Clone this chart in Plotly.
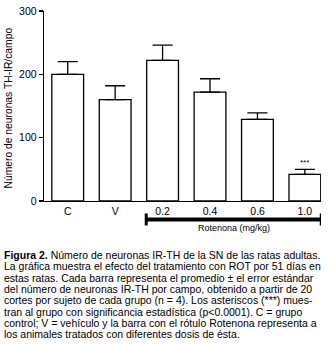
import plotly.graph_objects as go

categories = ["C", "V", "0.2", "0.4", "0.6", "1.0"]
means = [200, 160, 222, 172, 129, 42]
sem = [20, 22, 24, 21, 10, 8]
y_ticks = [0, 100, 200, 300]
y_title = "Número de neuronas TH-IR/campo"
bracket_label = "Rotenona (mg/kg)"
signif_label = "***"
caption_lines = [
    "<b>Figura 2.</b> Número de neuronas IR-TH de la SN de las ratas adultas.",
    "La gráfica muestra el efecto del tratamiento con ROT por 51 días en",
    "estas ratas. Cada barra representa el promedio ± el error estándar",
    "del número de neuronas IR-TH por campo, obtenido a partir de 20",
    "cortes por sujeto de cada grupo (n = 4). Los asteriscos (***) mues-",
    "tran al grupo con significancia estadística (p<0.0001). C = grupo",
    "control; V = vehículo y la barra con el rótulo Rotenona representa a",
    "los animales tratados con diferentes dosis de ésta.",
]

W, H = 333, 345
ML, MR, MT, MB = 44, 12, 11, 144
PW, PH = W - ML - MR, H - MT - MB
FONT = "Liberation Sans"


def py(pix):
    return (H - MB - pix) / PH


def px(pix):
    return (pix - ML) / PW


fig = go.Figure()
fig.add_trace(go.Bar(
    x=categories, y=means, width=0.67,
    marker=dict(color="white", line=dict(color="black", width=1.3)),
    error_y=dict(type="data", array=sem, arrayminus=[0] * len(sem), symmetric=False,
                 color="black", thickness=1.3, width=10),
    showlegend=False, hoverinfo="skip",
))

shapes = []
x0, x1 = 2 - 0.345, 5 + 0.345
shapes.append(dict(type="line", xref="x", yref="paper", x0=x0, x1=x1, y0=py(219.5), y1=py(219.5),
                   line=dict(color="black", width=4)))
for xx in (x0, x1):
    shapes.append(dict(type="line", xref="x", yref="paper", x0=xx, x1=xx, y0=py(213.5), y1=py(225.5),
                       line=dict(color="black", width=3)))

annotations = [
    dict(x=3.5, y=py(228), xref="x", yref="paper", text=bracket_label, showarrow=False,
         font=dict(size=9, color="black", family=FONT), xanchor="center", yanchor="middle"),
    dict(x=5, y=(H - MB - 162.5) / PH * 300, xref="x", yref="y", text=signif_label, showarrow=False,
         font=dict(size=8, color="black", family=FONT), xanchor="center", yanchor="middle"),
    dict(x=px(7.5), y=py(108), xref="paper", yref="paper", text=y_title, showarrow=False, textangle=-90,
         font=dict(size=10.3, color="black", family=FONT), xanchor="center", yanchor="middle"),
]
line_y0 = 255
for i, t in enumerate(caption_lines):
    annotations.append(dict(x=px(2), y=py(line_y0 + i * 11.3), xref="paper", yref="paper", text=t,
                            showarrow=False, xanchor="left", yanchor="middle",
                            font=dict(size=10.5, color="black", family=FONT)))

fig.update_layout(
    width=W, height=H,
    margin=dict(l=ML, r=MR, t=MT, b=MB, pad=0, autoexpand=False),
    paper_bgcolor="white", plot_bgcolor="white",
    bargap=0.33,
    shapes=shapes, annotations=annotations,
    font=dict(family=FONT, color="black"),
    xaxis=dict(range=[-0.5, 5.34], showline=True, linecolor="black", linewidth=1.3, automargin=False,
               ticks="", showgrid=False, zeroline=False, tickfont=dict(size=10.5, color="black")),
    yaxis=dict(range=[0, 300], tickvals=y_ticks, showline=True, linecolor="black", linewidth=1.3,
               automargin=False,
               ticks="outside", ticklen=4, tickwidth=1.2, tickcolor="black", showgrid=False,
               zeroline=False, tickfont=dict(size=10.5, color="black")),
)

fig.write_html("out.html", config={"displayModeBar": False, "staticPlot": True},
               post_script="document.body.style.margin='0';")
